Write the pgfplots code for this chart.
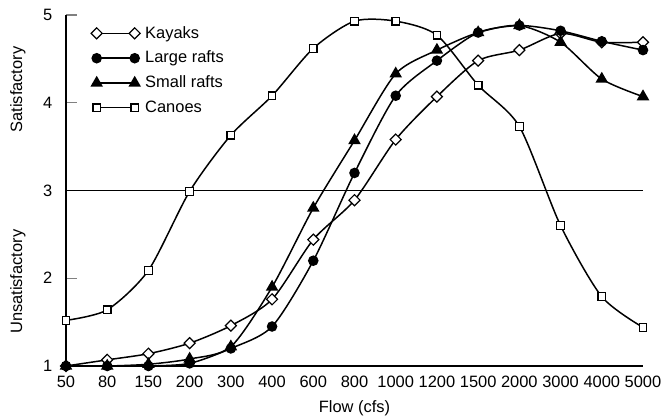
\documentclass[border=0pt]{standalone}
\usepackage{pgfplots}
\pgfplotsset{compat=1.18}
\usepackage{fontspec}
\setmainfont{Liberation Sans}
\newcommand\ff{\fontsize{16.5}{19}\selectfont}
\begin{document}
\ff
\begin{tikzpicture}
\begin{axis}[
    scale only axis,
    width=577bp, height=351bp,
    xmin=0, xmax=14, ymin=1, ymax=5,
    axis x line=bottom, axis y line=left,
    axis line style={-, line width=1.3pt},
    xtick={0,...,14},
    xticklabels={50,80,150,200,300,400,600,800,1000,1200,1500,2000,3000,4000,5000},
    x tick style={draw=none},
    ytick={1,2,4,5}, yticklabels={1,2,4,5},
    extra y ticks={3}, extra y tick labels={3},
    extra y tick style={tick style={draw=none}},
    tick align=inside, major tick length=11bp,
    y tick style={line width=1.2pt},
    ticklabel style={font=\ff},
    yticklabel style={xshift=-8bp},
    xticklabel style={yshift=-4bp},
    clip=false,
    legend style={at={(rel axis cs:0,1)}, anchor=north west, xshift=22bp, yshift=-7bp,
        draw=none, fill=none, font=\ff, row sep=6.5bp,
        nodes={inner xsep=5bp}},
    legend cell align=left,
    legend image code/.code={\draw[#1] plot coordinates {(0bp,0bp) (38bp,0bp)};},
    every axis plot/.append style={line width=1.5pt, black, smooth, tension=0.45},
]
\addplot[mark=square*, mark size=3.9bp, mark options={rotate=45, fill=white, line width=1.2pt}] coordinates {
    (0,1.0) (1,1.07) (2,1.14) (3,1.26) (4,1.46) (5,1.76) (6,2.44) (7,2.89)
    (8,3.58) (9,4.07) (10,4.48) (11,4.6) (12,4.79) (13,4.69) (14,4.69)
};
\addlegendentry{Kayaks}
\addplot[mark=*, mark size=4.5bp, mark options={fill=black}] coordinates {
    (0,1.0) (1,1.0) (2,1.0) (3,1.03) (4,1.2) (5,1.45) (6,2.2) (7,3.2)
    (8,4.08) (9,4.48) (10,4.8) (11,4.88) (12,4.82) (13,4.7) (14,4.6)
};
\addlegendentry{Large rafts}
\addplot[mark=triangle*, mark size=5.8bp, mark options={fill=black}] coordinates {
    (0,1.0) (1,1.0) (2,1.02) (3,1.08) (4,1.22) (5,1.9) (6,2.8) (7,3.57)
    (8,4.33) (9,4.6) (10,4.8) (11,4.88) (12,4.69) (13,4.27) (14,4.07)
};
\addlegendentry{Small rafts}
\addplot[mark=square*, mark size=3.8bp, mark options={fill=white, line width=1.2pt}] coordinates {
    (0,1.52) (1,1.64) (2,2.09) (3,2.99) (4,3.63) (5,4.08) (6,4.62) (7,4.93)
    (8,4.93) (9,4.77) (10,4.2) (11,3.73) (12,2.6) (13,1.79) (14,1.44)
};
\addlegendentry{Canoes}
\draw[line width=1.1pt] (axis cs:0,3) -- (axis cs:14,3);
\node[rotate=90, font=\ff] at ([xshift=-48bp]axis cs:0,4.15) {Satisfactory};
\node[rotate=90, font=\ff] at ([xshift=-48bp]axis cs:0,1.96) {Unsatisfactory};
\node[font=\ff] at ([yshift=-42bp]rel axis cs:0.5,0) {Flow (cfs)};
\end{axis}
\pgfresetboundingbox
\path (-66bp,-51bp) rectangle (600bp,366bp);
\end{tikzpicture}
\end{document}
